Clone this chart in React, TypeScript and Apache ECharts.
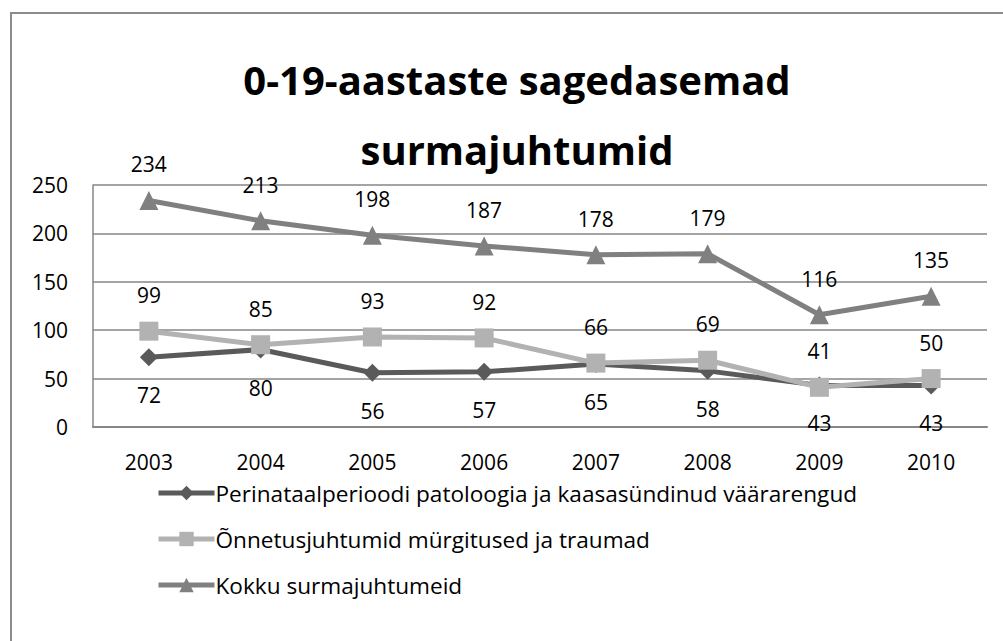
import React, { useEffect, useRef } from "react";
import * as echarts from "echarts";

const years = ["2003", "2004", "2005", "2006", "2007", "2008", "2009", "2010"];
const perinataal = [72, 80, 56, 57, 65, 58, 43, 43];
const onnetus = [99, 85, 93, 92, 66, 69, 41, 50];
const kokku = [234, 213, 198, 187, 178, 179, 116, 135];
const seriesNames = [
  "Perinataalperioodi patoloogia ja kaasasündinud väärarengud",
  "Õnnetusjuhtumid mürgitused ja traumad",
  "Kokku surmajuhtumeid",
];
const titleText = "0-19-aastaste sagedasemad\nsurmajuhtumid";

const FONT = "Open Sans";

export default function App() {
  const ref = useRef<HTMLDivElement>(null);
  useEffect(() => {
    if (!ref.current) return;
    const chart = echarts.init(ref.current, null, { renderer: "svg" });
    const labelStyle = (offsetY: number) => ({
      show: true,
      position: "inside" as const,
      offset: [0, offsetY],
      color: "#000",
      fontSize: 21,
      fontFamily: FONT,
    });
    chart.setOption({
      animation: false,
      backgroundColor: "#fff",
      graphic: [
        {
          type: "rect",
          shape: { x: 11, y: 13, width: 1100, height: 700 },
          style: { fill: "none", stroke: "#8c8c8c", lineWidth: 2 },
          silent: true,
        },
      ],
      title: {
        text: titleText,
        left: 512,
        textAlign: "center",
        top: 39,
        textStyle: {
          fontFamily: FONT,
          fontWeight: "bold",
          fontSize: 40,
          lineHeight: 70,
          color: "#000",
        },
      },
      grid: { left: 93, right: 16, top: 185, bottom: 214, containLabel: false },
      xAxis: {
        type: "category",
        data: years,
        axisLine: { show: true, lineStyle: { color: "#868686", width: 2 } },
        axisTick: { show: false },
        axisLabel: { color: "#000", fontSize: 21, fontFamily: FONT, margin: 24 },
        splitLine: { show: false },
      },
      yAxis: {
        type: "value",
        min: 0,
        max: 250,
        interval: 50,
        axisLine: { show: true, lineStyle: { color: "#868686", width: 1.5 } },
        axisTick: { show: false },
        axisLabel: { color: "#000", fontSize: 21, fontFamily: FONT, margin: 25 },
        splitLine: { show: true, lineStyle: { color: "#868686", width: 1.5 } },
      },
      legend: {
        orient: "vertical",
        left: 156,
        top: 481,
        itemWidth: 56,
        itemHeight: 18,
        itemGap: 22,
        padding: 0,
        lineStyle: { width: 5 },
        textStyle: {
          color: "#000",
          fontSize: 22.6,
          lineHeight: 24,
          fontFamily: FONT,
          padding: [0, 0, 0, -4],
        },
        data: seriesNames,
      },
      series: [
        {
          name: seriesNames[0],
          type: "line",
          data: perinataal,
          symbol: "diamond",
          symbolSize: 18,
          color: "#5a5a5a",
          lineStyle: { width: 5, color: "#5a5a5a" },
          itemStyle: { color: "#5a5a5a" },
          label: labelStyle(38),
          z: 2,
        },
        {
          name: seriesNames[1],
          type: "line",
          data: onnetus,
          symbol: "rect",
          symbolSize: 19,
          color: "#b2b2b2",
          lineStyle: { width: 5, color: "#b2b2b2" },
          itemStyle: { color: "#b2b2b2" },
          label: labelStyle(-36),
          z: 3,
        },
        {
          name: seriesNames[2],
          type: "line",
          data: kokku,
          symbol: "triangle",
          symbolSize: 19,
          color: "#808080",
          lineStyle: { width: 5, color: "#808080" },
          itemStyle: { color: "#808080" },
          label: labelStyle(-36),
          z: 4,
        },
      ],
    });
    return () => chart.dispose();
  }, []);
  return (
    <div
      ref={ref}
      style={{ position: "fixed", left: 0, top: 0, width: 1003, height: 641 }}
    />
  );
}
